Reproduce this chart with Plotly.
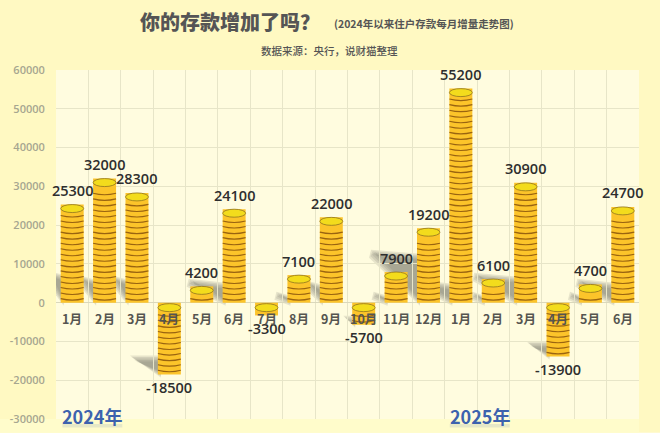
import plotly.graph_objects as go

# =========================================
# Data
# =========================================
months = ["1月", "2月", "3月", "4月", "5月", "6月", "7月", "8月", "9月", "10月", "11月", "12月",
          "1月", "2月", "3月", "4月", "5月", "6月"]
values = [25300, 32000, 28300, -18500, 4200, 24100, -3300, 7100, 22000, -5700, 7900, 19200,
          55200, 6100, 30900, -13900, 4700, 24700]
y_ticks = [60000, 50000, 40000, 30000, 20000, 10000, 0, -10000, -20000, -30000]
y_labels = ["60000", "50000", "40000", "30000", "20000", "10000", "0", "-10000", "-20000", "-30000"]

# cast shadows: bar index, reach to the left and height of the tip (both in px)
shadows = [(0, 14, 29), (1, 12, 24), (2, 12, 24), (5, 33, 21), (7, 10, 8), (8, 12, 19),
           (10, 10, 8), (11, 45, 50), (12, 30, 20), (13, 8, 8), (14, 39, 27), (16, 8, 8), (17, 33, 21)]
neg_shadows = [(3, 25, 16), (15, 17, 12), (9, 6, 6)]

PX_Y = 90000 / 349.5      # y units per pixel
PX_X = 1 / 32.44          # x units per pixel
HALF = 11.5 * PX_X        # half width of a coin stack
COIN = 5.55 * PX_Y        # thickness of one coin
x = list(range(len(values)))

shapes = []

# shadows sit under the stacks, a few layers to fake the blur
for grow in (3, 1.5, 0, -1.5, -3):
    for i, reach, tip in shadows:
        left = i - HALF
        shapes.append(dict(
            type="path", layer="below", line=dict(width=0), fillcolor="rgba(115,115,100,0.17)",
            path=(f"M {left + 3 * PX_X} {-grow * PX_Y} "
                  f"L {left - (reach + grow) * PX_X} {(tip - 2 - grow) * PX_Y} "
                  f"L {left - (reach + grow - 2) * PX_X} {(tip + grow) * PX_Y} "
                  f"L {left + 3 * PX_X} {(tip - 4 + grow) * PX_Y} Z")))
    for i, reach, drop in neg_shadows:
        left = i - HALF
        bottom = values[i]
        shapes.append(dict(
            type="path", layer="below", line=dict(width=0), fillcolor="rgba(115,115,100,0.17)",
            path=(f"M {left + 3 * PX_X} {bottom - grow * PX_Y} "
                  f"L {left - (reach + grow) * PX_X} {bottom + (drop + grow) * PX_Y} "
                  f"L {left + 3 * PX_X} {bottom + (drop + grow) * PX_Y} Z")))

# coin edges and the yellow coin on top of each stack
for i, v in zip(x, values):
    parts = []
    if v > 0:
        y_s = 1.2 * PX_Y + COIN * 0.3
        while y_s < v - 11 * PX_Y:
            parts.append(f"M {i - HALF} {y_s + 1.2 * PX_Y} Q {i} {y_s - 1.8 * PX_Y} {i + HALF} {y_s + 1.2 * PX_Y}")
            y_s += COIN
        top = v
    else:
        y_s = v + 3 * PX_Y
        while y_s < -11 * PX_Y:
            parts.append(f"M {i - HALF} {y_s + 1.2 * PX_Y} Q {i} {y_s - 1.8 * PX_Y} {i + HALF} {y_s + 1.2 * PX_Y}")
            y_s += COIN
        top = 0 - 1 * PX_Y
    if parts:
        shapes.append(dict(type="path", path=" ".join(parts), line=dict(color="#9A6410", width=1.1)))
    shapes.append(dict(type="circle", x0=i - HALF, x1=i + HALF, y0=top - 8 * PX_Y, y1=top,
                       fillcolor="#F3DC1C", line=dict(color="#8F7420", width=0.8)))

# white strip along the bottom of the picture
shapes.append(dict(type="rect", xref="paper", yref="paper", x0=-0.2, x1=1.2, y0=-0.07, y1=-0.0392,
                   fillcolor="#FFFFFF", line=dict(width=0), layer="below"))
shapes.append(dict(type="rect", xref="paper", yref="paper", x0=-0.1, x1=1.0, y0=-0.0392, y1=0,
                   fillcolor="#FFFCCB", line=dict(width=0), layer="below"))

annotations = []
cjk = "Noto Sans CJK SC"

# value labels
for i, v in zip(x, values):
    annotations.append(dict(x=i, y=v, text=str(v), showarrow=False, xanchor="center", yanchor="middle",
                            yshift=14 if v > 0 else -13,
                            font=dict(family="Open Sans", size=14.5, weight=600, color="#2E2E2E")))

# month labels, they hang under the zero line
for i, m in zip(x, months):
    annotations.append(dict(x=i, y=0, text=m, showarrow=False, xanchor="center", yanchor="middle", yshift=-15.5,
                            font=dict(family=cjk, size=12.5, weight=600, color="#555550")))

# year captions, the pale strip stands in for their reflection
for label, xc in (("2024年", 92), ("2025年", 480)):
    annotations.append(dict(xref="paper", yref="paper", x=(xc - 55.6) / 583.9, y=0.01, text=label,
                            showarrow=False, xanchor="center", yanchor="middle",
                            font=dict(family=cjk, size=18, weight=700, color="#3D62AE")))
    shapes.append(dict(type="rect", xref="paper", yref="paper",
                       x0=(xc - 30 - 55.6) / 583.9, x1=(xc + 30 - 55.6) / 583.9, y0=-0.024, y1=-0.014,
                       fillcolor="rgba(61,98,174,0.13)", line=dict(width=0)))

# titles
annotations.append(dict(xref="paper", yref="paper", x=(230 - 55.6) / 583.9, y=(419 - 21) / 349.5,
                        text="你的存款增加了吗？", showarrow=False, xanchor="center", yanchor="middle",
                        font=dict(family=cjk, size=20, weight=900, color="#555555")))
annotations.append(dict(xref="paper", yref="paper", x=(424 - 55.6) / 583.9, y=(419 - 23) / 349.5,
                        text="(2024年以来住户存款每月增量走势图)", showarrow=False, xanchor="center", yanchor="middle",
                        font=dict(family=cjk, size=10.5, weight=600, color="#555555")))
annotations.append(dict(xref="paper", yref="paper", x=(330 - 55.6) / 583.9, y=(419 - 50) / 349.5,
                        text="数据来源：央行，说财猫整理", showarrow=False, xanchor="center", yanchor="middle",
                        font=dict(family=cjk, size=10.5, weight=500, color="#555555")))

fig = go.Figure()
fig.add_trace(go.Bar(x=x, y=values, width=2 * HALF, marker=dict(color="#FCC42A", line=dict(width=0)),
                     hoverinfo="x+y"))

fig.update_layout(
    width=660, height=438,
    margin=dict(l=55.6, r=20.5, t=69.5, b=19),
    paper_bgcolor="#FFF9C2",
    plot_bgcolor="#FFFCDF",
    showlegend=False,
    shapes=shapes,
    annotations=annotations,
    xaxis=dict(range=[-0.5, 17.5], tickvals=[i - 0.5 for i in range(19)], showticklabels=False,
               showgrid=True, gridcolor="#E7E5C8", gridwidth=1, zeroline=False, ticks="", automargin=False),
    yaxis=dict(range=[-30000, 60000], tickvals=y_ticks, ticktext=y_labels, showgrid=True,
               gridcolor="#E7E5C8", gridwidth=1, zeroline=True, zerolinecolor="#DAD8BC", zerolinewidth=1,
               ticks="outside", ticklen=8, tickcolor="rgba(0,0,0,0)", automargin=False,
               tickfont=dict(family="Open Sans", size=11, weight=600, color="#A6A690")),
)

# the page margin would otherwise push the figure off the window
fig.write_html("out.html", config=dict(displayModeBar=False),
               post_script="document.body.style.margin='0';document.body.style.overflow='hidden';")
